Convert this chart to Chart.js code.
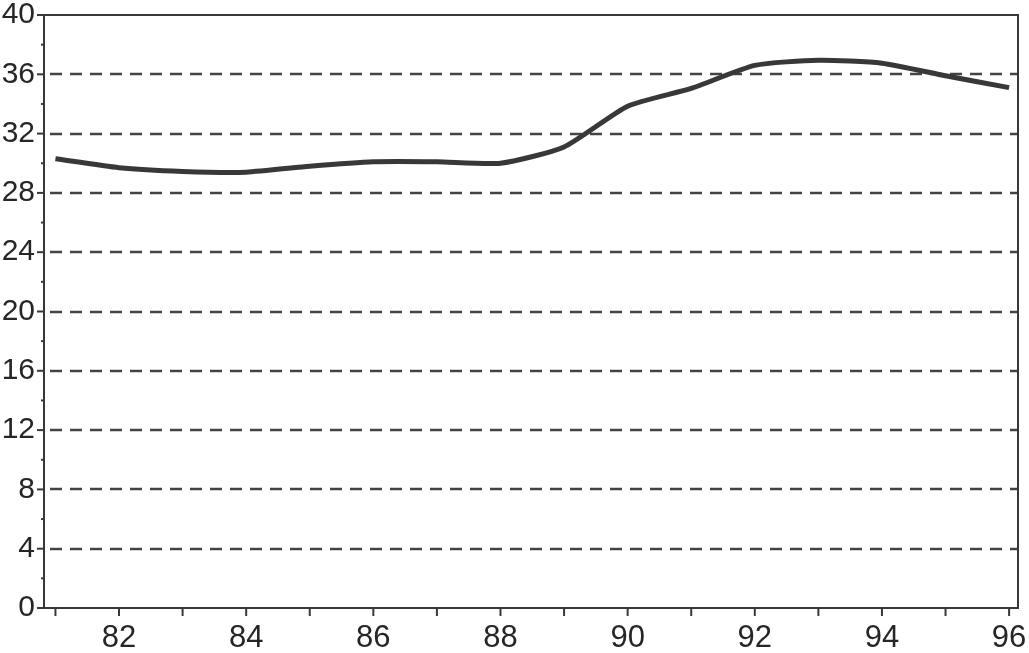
<!DOCTYPE html>
<html>
<head>
<meta charset="utf-8">
<script src="https://cdn.jsdelivr.net/npm/chart.js@4.4.1/dist/chart.umd.min.js"></script>
<style>
  html, body { margin: 0; padding: 0; background: #ffffff; }
  #wrap { width: 1029px; height: 653px; }
</style>
</head>
<body>
<div id="wrap"><canvas id="c" width="1029" height="653"></canvas></div>
<script>
// ---- data ----
const years  = [81, 82, 83, 84, 85, 86, 87, 88, 89, 90, 91, 92, 93, 94, 95, 96];
const values = [30.3, 29.7, 29.45, 29.4, 29.8, 30.1, 30.1, 30.0, 31.1, 33.85, 35.05, 36.6, 36.95, 36.75, 35.9, 35.1];
const xTickValues = [81, 82, 83, 84, 85, 86, 87, 88, 89, 90, 91, 92, 93, 94, 95, 96];
const xLabelled   = [82, 84, 86, 88, 90, 92, 94, 96];
const yTickValues = [0, 2, 4, 6, 8, 10, 12, 14, 16, 18, 20, 22, 24, 26, 28, 30, 32, 34, 36, 38, 40];
const yLabelled   = [0, 4, 8, 12, 16, 20, 24, 28, 32, 36, 40];

const INK = '#383838';

const framePlugin = {
  id: 'frame',
  beforeDatasetsDraw(chart) {
    const ctx = chart.ctx;
    const a = chart.chartArea;
    const xs = chart.scales.x, ys = chart.scales.y;
    ctx.save();
    // dashed horizontal grid lines
    ctx.strokeStyle = '#444';
    ctx.lineWidth = 2.4;
    ctx.setLineDash([12, 8]);
    yLabelled.forEach(v => {
      if (v === 0 || v === 40) return;
      const y = Math.round(ys.getPixelForValue(v));
      ctx.beginPath();
      ctx.moveTo(a.left + 6, y);
      ctx.lineTo(a.right, y);
      ctx.stroke();
    });
    ctx.setLineDash([]);
    // frame
    ctx.strokeStyle = INK;
    ctx.lineWidth = 2;
    ctx.beginPath();
    ctx.moveTo(a.left, a.bottom);
    ctx.lineTo(a.left, a.top);
    ctx.lineTo(a.right, a.top);
    ctx.lineTo(a.right, a.bottom);
    ctx.lineTo(a.left, a.bottom);
    ctx.stroke();
    // y tick marks
    yTickValues.forEach(v => {
      const y = ys.getPixelForValue(v);
      const major = yLabelled.includes(v);
      ctx.beginPath();
      ctx.moveTo(a.left - (major ? 7 : 3), y);
      ctx.lineTo(a.left, y);
      ctx.stroke();
    });
    // x tick marks
    xTickValues.forEach(v => {
      const x = xs.getPixelForValue(v);
      ctx.beginPath();
      ctx.moveTo(x, a.bottom);
      ctx.lineTo(x, a.bottom + 8);
      ctx.stroke();
    });
    ctx.restore();
  }
};

new Chart(document.getElementById('c'), {
  type: 'line',
  data: {
    datasets: [{
      data: years.map((y, i) => ({ x: y, y: values[i] })),
      borderColor: INK,
      borderWidth: 5,
      pointRadius: 0,
      tension: 0.2,
      fill: false
    }]
  },
  options: {
    responsive: false,
    animation: false,
    devicePixelRatio: 1,
    layout: { padding: { top: 15, right: 11, left: 0, bottom: 0 } },
    plugins: { legend: { display: false }, tooltip: { enabled: false } },
    scales: {
      x: {
        type: 'linear',
        min: 80.82,
        max: 96.14,
        afterBuildTicks: s => { s.ticks = xTickValues.map(v => ({ value: v })); },
        afterFit: s => { s.height = 45; s.paddingLeft = 0; s.paddingRight = 0; },
        grid: { display: false, drawTicks: false },
        border: { display: false },
        ticks: {
          autoSkip: false,
          maxRotation: 0,
          padding: 12,
          color: '#262626',
          font: { family: 'Liberation Sans', size: 31 },
          callback: v => xLabelled.includes(v) ? String(v) : ''
        }
      },
      y: {
        type: 'linear',
        min: 0,
        max: 40,
        afterBuildTicks: s => { s.ticks = yTickValues.map(v => ({ value: v })); },
        afterFit: s => { s.width = 44; s.paddingTop = 0; s.paddingBottom = 0; },
        grid: { display: false, drawTicks: false },
        border: { display: false },
        ticks: {
          autoSkip: false,
          padding: 9,
          color: '#262626',
          font: { family: 'Liberation Sans', size: 30 },
          callback: v => yLabelled.includes(v) ? String(v) : ''
        }
      }
    }
  },
  plugins: [framePlugin]
});
</script>
</body>
</html>
